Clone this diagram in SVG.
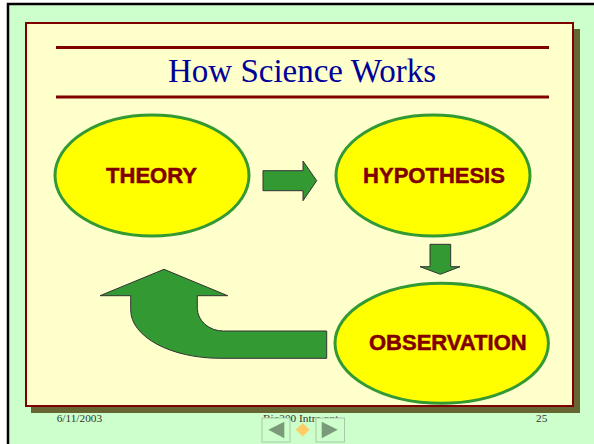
<svg xmlns="http://www.w3.org/2000/svg" width="594" height="444" viewBox="0 0 594 444">
  <style>
    .node ellipse { fill: #FFFF00; stroke: #339933; stroke-width: 3; }
    .label { font-family: "Liberation Sans", Arial, sans-serif; font-weight: bold; font-size: 22px; fill: #800000; stroke: #800000; stroke-width: 0.5; text-anchor: middle; }
    .arrow { fill: #339933; stroke: #333333; stroke-width: 1; stroke-linejoin: miter; }
    .footer { font-family: "Liberation Serif", "Times New Roman", serif; font-size: 11.3px; fill: #333333; }
    .rule { stroke: #800000; stroke-width: 3; }
    .btn { fill: #CCFFCC; stroke: #A8C8A8; stroke-width: 1; }
    .tri { fill: #7A9A7A; }
  </style>
  <rect x="0" y="0" width="594" height="444" fill="#FFFFFF"/>
  <rect x="8" y="4" width="600" height="460" fill="#CCFFCC" stroke="#000000" stroke-width="2.5"/>
  <rect x="31" y="29" width="549" height="384" fill="#666633"/>
  <rect x="26" y="23" width="547" height="383" fill="#FFFFCC" stroke="#800000" stroke-width="2"/>
  <line class="rule" x1="56" y1="47.5" x2="549" y2="47.5"/>
  <line class="rule" x1="56" y1="97" x2="549" y2="97"/>
  <text x="302" y="82" font-family="'Liberation Serif', 'Times New Roman', serif" font-size="33" fill="#000099" text-anchor="middle">How Science Works</text>

  <g id="connectors">
    <path class="arrow" d="M263,170.7 L303,170.7 L303,161 L316.7,180.7 L303,200.7 L303,190.7 L263,190.7 Z"/>
    <path class="arrow" d="M430,244.3 L450.7,244.3 L450.7,266.7 L460,266.7 L440.3,274.3 L420,266.7 L430,266.7 Z"/>
    <path class="arrow" d="M326.7,331 L223.3,331 A26 23 0 0 1 197.3,308.3 L197.3,295.7 L227.7,295.7 L164,269.3 L100,295.7 L130.7,295.7 L130.7,310 A89.3 48.3 0 0 0 220,358.3 L326.7,358.3 Z"/>
  </g>

  <g id="theory" class="node">
    <ellipse cx="152" cy="175.5" rx="97" ry="60.5"/>
    <text class="label" x="151.5" y="182.7">THEORY</text>
  </g>
  <g id="hypothesis" class="node">
    <ellipse cx="433" cy="175.5" rx="97" ry="60.5"/>
    <text class="label" x="434" y="182.7">HYPOTHESIS</text>
  </g>
  <g id="observation" class="node">
    <ellipse cx="441.7" cy="343.3" rx="106.7" ry="60"/>
    <text class="label" x="447.8" y="350">OBSERVATION</text>
  </g>

  <g id="footer">
    <text class="footer" x="56.7" y="421.7">6/11/2003</text>
    <text class="footer" x="263" y="421.7">Bio200 Intro.ppt</text>
    <text class="footer" x="536" y="421.7">25</text>
  </g>
  <g id="nav">
    <rect class="btn" x="262" y="418" width="28" height="24"/>
    <polygon class="tri" points="268.3,429.8 284.3,421.7 284.3,438.3"/>
    <polygon points="302.7,423 309.7,429.7 302.7,436.5 295.7,429.7" fill="#FFCC66"/>
    <rect class="btn" x="316" y="418" width="28.5" height="24"/>
    <polygon class="tri" points="337.7,429.8 321.7,421.7 321.7,438.3"/>
  </g>
</svg>
